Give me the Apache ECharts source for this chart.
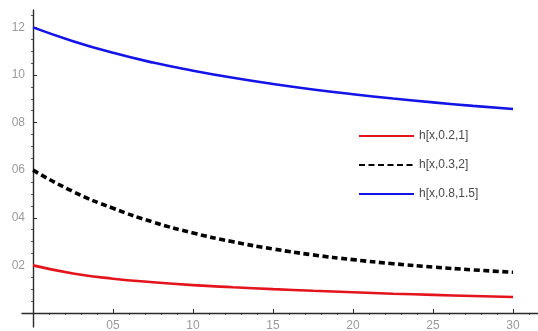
<!DOCTYPE html>
<html>
<head>
<meta charset="utf-8">
<script src="https://cdn.jsdelivr.net/npm/echarts@6/dist/echarts.min.js"></script>
<style>
  html, body { margin: 0; padding: 0; background: #ffffff; }
  #chart { width: 538px; height: 331px; }
</style>
</head>
<body>
<div id="chart"></div>
<script>
// Sample positions along x
const xs = [0, 0.25, 0.5, 0.75, 1.0, 1.25, 1.5, 1.75, 2.0, 2.25, 2.5, 2.75, 3.0];

// h[x, a, b] curves
const hRed   = [0.0200, 0.0166, 0.0144, 0.0129, 0.0117, 0.0108, 0.0100, 0.0093, 0.0087, 0.0081, 0.0076, 0.0071, 0.0067];
const hBlack = [0.0600, 0.0510, 0.0440, 0.0382, 0.0336, 0.0299, 0.0269, 0.0244, 0.0224, 0.0207, 0.0193, 0.0181, 0.0171];
const hBlue  = [0.1200, 0.1142, 0.1093, 0.1052, 0.1018, 0.0988, 0.0962, 0.0939, 0.0919, 0.0901, 0.0885, 0.0870, 0.0857];

const seriesNames = ['h[x,0.2,1]', 'h[x,0.3,2]', 'h[x,0.8,1.5]'];

// Tick positions and their printed labels
const xTickValues = [0.5, 1.0, 1.5, 2.0, 2.5, 3.0];
const xTickLabels = ['05', '10', '15', '20', '25', '30'];
const yTickValues = [0.02, 0.04, 0.06, 0.08, 0.10, 0.12];
const yTickLabels = ['02', '04', '06', '08', '10', '12'];
const xMinorTicks = [0.1, 0.2, 0.3, 0.4, 0.6, 0.7, 0.8, 0.9, 1.1, 1.2, 1.3, 1.4, 1.6, 1.7, 1.8, 1.9,
                     2.1, 2.2, 2.3, 2.4, 2.6, 2.7, 2.8, 2.9, 3.1];
const yMinorTicks = [0.005, 0.01, 0.015, 0.025, 0.03, 0.035, 0.045, 0.05, 0.055, 0.065, 0.07, 0.075,
                     0.085, 0.09, 0.095, 0.105, 0.11, 0.115, 0.125];

const pairs = ys => xs.map((x, i) => [x, ys[i]]);

const X_MIN = -0.069, X_MAX = 3.156, Y_MIN = -0.0059, Y_MAX = 0.1273;
const axisColor = '#2b2b2b';
const labelColor = '#9a9a9a';
const font = 'Liberation Sans, Arial, sans-serif';

const chart = echarts.init(document.getElementById('chart'), null, { renderer: 'canvas' });

const option = {
  backgroundColor: '#ffffff',
  animation: false,
  grid: { left: 22, right: 0, top: 10, bottom: 4, containLabel: false, outerBoundsMode: 'none' },
  xAxis: [
    {
      type: 'value', min: X_MIN, max: X_MAX,
      axisLine: { show: true, onZero: true, lineStyle: { color: axisColor, width: 1.4 } },
      axisTick: { show: true, inside: true, length: 4, customValues: xTickValues,
                  lineStyle: { color: axisColor, width: 1 } },
      axisLabel: {
        customValues: xTickValues, margin: -7, color: labelColor, fontSize: 12, fontFamily: font,
        formatter: v => xTickLabels[xTickValues.findIndex(t => Math.abs(t - v) < 1e-6)] || ''
      },
      splitLine: { show: false }
    },
    {
      type: 'value', min: X_MIN, max: X_MAX,
      axisLine: { show: false, onZero: true },
      axisTick: { show: true, inside: true, length: 2, customValues: xMinorTicks,
                  lineStyle: { color: axisColor, width: 0.8 } },
      axisLabel: { show: false },
      splitLine: { show: false }
    }
  ],
  yAxis: [
    {
      type: 'value', min: Y_MIN, max: Y_MAX,
      axisLine: { show: true, onZero: true, lineStyle: { color: axisColor, width: 1.4 } },
      axisTick: { show: true, inside: true, length: 4, customValues: yTickValues,
                  lineStyle: { color: axisColor, width: 1 } },
      axisLabel: {
        customValues: yTickValues, margin: -3, color: labelColor, fontSize: 12, fontFamily: font,
        formatter: v => yTickLabels[yTickValues.findIndex(t => Math.abs(t - v) < 1e-6)] || ''
      },
      splitLine: { show: false }
    },
    {
      type: 'value', min: Y_MIN, max: Y_MAX,
      axisLine: { show: false, onZero: true },
      axisTick: { show: true, inside: true, length: 2, customValues: yMinorTicks,
                  lineStyle: { color: axisColor, width: 0.8 } },
      axisLabel: { show: false },
      splitLine: { show: false }
    }
  ],
  legend: {
    orient: 'vertical',
    left: 358, top: 130,
    itemWidth: 55, itemHeight: 14, itemGap: 17,
    itemStyle: { opacity: 0 },
    textStyle: { color: '#4a4a4a', fontSize: 12, fontFamily: font },
    data: seriesNames,
    backgroundColor: '#ffffff',
    padding: 0
  },
  series: [
    {
      name: seriesNames[0], type: 'line', smooth: true, symbol: 'none', showSymbol: false,
      data: pairs(hRed), xAxisIndex: 0, yAxisIndex: 0,
      lineStyle: { color: '#e3141c', width: 2.6 }, itemStyle: { color: '#e3141c' }
    },
    {
      name: seriesNames[1], type: 'line', smooth: true, symbol: 'none', showSymbol: false,
      data: pairs(hBlack), xAxisIndex: 0, yAxisIndex: 0,
      lineStyle: { color: '#000000', width: 3.6, type: [6, 3.5] }, itemStyle: { color: '#000000' }
    },
    {
      name: seriesNames[2], type: 'line', smooth: true, symbol: 'none', showSymbol: false,
      data: pairs(hBlue), xAxisIndex: 0, yAxisIndex: 0,
      lineStyle: { color: '#1414e6', width: 2.6 }, itemStyle: { color: '#1414e6' }
    }
  ]
};

chart.setOption(option);
</script>
</body>
</html>
